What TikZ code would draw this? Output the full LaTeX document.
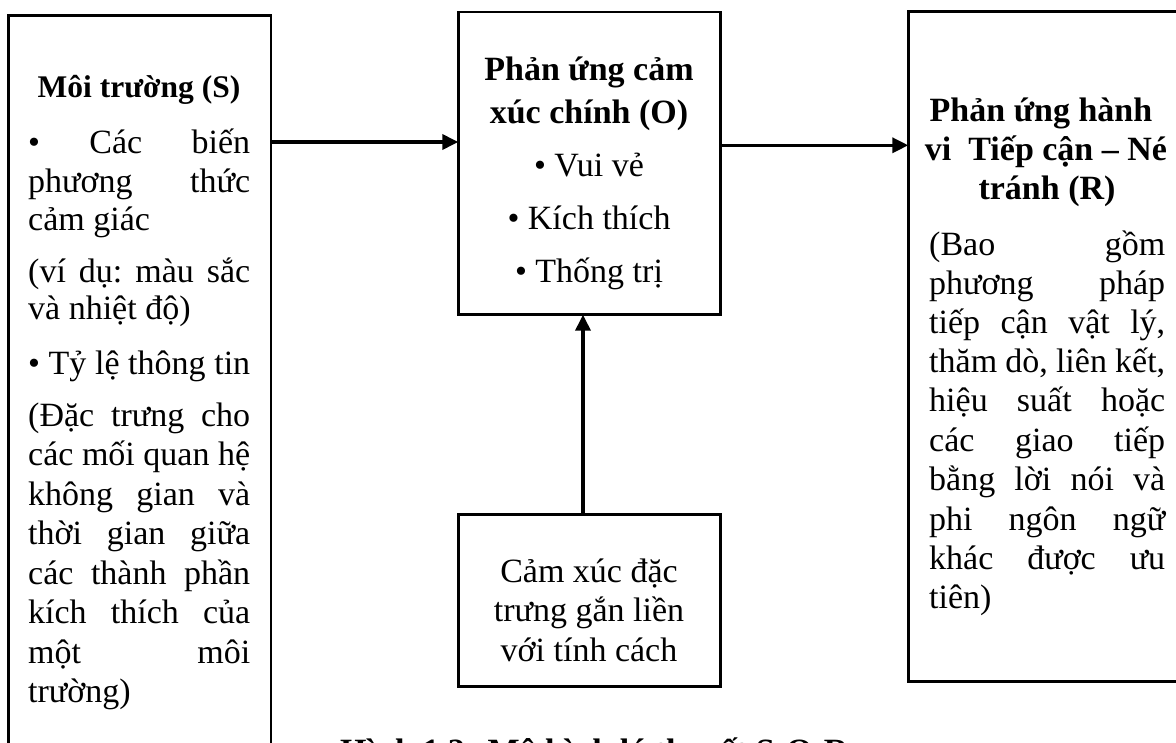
\documentclass[tikz,border=0pt]{standalone}
\usepackage{fontspec}
\setmainfont{Liberation Serif}
\usetikzlibrary{arrows.meta}
% stretchable word gap for justified lines
\newcommand\wg{\hskip 0.25em plus 1fill minus 0.08em}
\newcommand\jl[2]{\hbox to #1{#2}}
\begin{document}
\begin{tikzpicture}[x=1pt,y=-1pt,
  box/.style={draw, line width=2.8pt, inner sep=0pt, outer sep=0pt, anchor=north west},
  arr/.style={line width=3.5pt, -{Triangle[length=16pt,width=15pt]}},
  txt/.style={inner sep=0pt, anchor=base west, font=\fontsize{34pt}{40pt}\selectfont},
  ctr/.style={inner sep=0pt, anchor=base, font=\fontsize{34pt}{40pt}\selectfont},
  hd/.style={inner sep=0pt, anchor=base, font=\fontsize{34pt}{40pt}\selectfont\bfseries}]
\useasboundingbox (0,0) rectangle (1176,743);

% boxes
\node[box, minimum width=262.6pt, minimum height=800pt]   (S) at (8.4,15.8) {};
\node[box, minimum width=262.2pt, minimum height=302.7pt] (O) at (458.3,12) {};
\node[box, minimum width=262.2pt, minimum height=171.6pt] (C) at (458.3,514.7) {};
\node[box, minimum width=400pt,   minimum height=670.4pt] (R) at (908.3,11.3) {};

% connectors
\coordinate (y1) at (0,142);
\coordinate (y2) at (0,145.3);
\coordinate (x3) at (583,0);
\draw[arr] (S.east |- y1) -- (O.west |- y1);
\draw[arr] (O.east |- y2) -- (R.west |- y2);
\draw[arr] (C.north -| x3) -- (O.south -| x3);

% stimulus column
\node[hd, font=\fontsize{31.5pt}{38pt}\selectfont\bfseries] (s0) at (139,98) {Môi trường (S)};
\node[txt] (s1)  at (28,154)  {\jl{222pt}{•\wg Các\wg biến}};
\node[txt] (s2)  at (28,192.5){\jl{222pt}{phương\wg thức}};
\node[txt] (s3)  at (28,231)  {cảm giác};
\node[txt] (s4)  at (28,283)  {\jl{222pt}{(ví\wg dụ:\wg màu\wg sắc}};
\node[txt] (s5)  at (28,319.5){và nhiệt độ)};
\node[txt] (s6)  at (28,375)  {\jl{222pt}{•\wg Tỷ\wg lệ\wg thông\wg tin}};
\node[txt] (s7)  at (28,426)  {\jl{222pt}{(Đặc\wg trưng\wg cho}};
\node[txt] (s8)  at (28,465.5){\jl{222pt}{các\wg mối\wg quan\wg hệ}};
\node[txt] (s9)  at (28,505)  {\jl{222pt}{không\wg gian\wg và}};
\node[txt] (s10) at (28,544.5){\jl{222pt}{thời\wg gian\wg giữa}};
\node[txt] (s11) at (28,584)  {\jl{222pt}{các\wg thành\wg phần}};
\node[txt] (s12) at (28,623.5){\jl{222pt}{kích\wg thích\wg của}};
\node[txt] (s13) at (28,663)  {\jl{222pt}{một\wg môi}};
\node[txt] (s14) at (28,702)  {trường)};

% organism column
\node[hd]  (o0) at (589,81)  {Phản ứng cảm};
\node[hd]  (o1) at (589,124) {xúc chính (O)};
\node[ctr] (o2) at (589,177) {• Vui vẻ};
\node[ctr] (o3) at (589,230) {• Kích thích};
\node[ctr] (o4) at (589,283) {• Thống trị};

\node[ctr] (c0) at (589,582) {Cảm xúc đặc};
\node[ctr] (c1) at (589,621) {trưng gắn liền};
\node[ctr] (c2) at (589,661) {với tính cách};

% response column
\node[hd]  (r0)  at (1041,122) {Phản ứng hành};
\node[hd]  (r1)  at (1046,161) {vi~~Tiếp cận – Né};
\node[hd]  (r2)  at (1047,200) {tránh (R)};
\node[txt] (r3)  at (929,256)  {\jl{236pt}{(Bao\wg gồm}};
\node[txt] (r4)  at (929,295)  {\jl{236pt}{phương\wg pháp}};
\node[txt] (r5)  at (929,334)  {\jl{236pt}{tiếp\wg cận\wg vật\wg lý,}};
\node[txt] (r6)  at (929,373)  {\jl{236pt}{thăm\wg dò,\wg liên\wg kết,}};
\node[txt] (r7)  at (929,412)  {\jl{236pt}{hiệu\wg suất\wg hoặc}};
\node[txt] (r8)  at (929,451)  {\jl{236pt}{các\wg giao\wg tiếp}};
\node[txt] (r9)  at (929,490)  {\jl{236pt}{bằng\wg lời\wg nói\wg và}};
\node[txt] (r10) at (929,530)  {\jl{236pt}{phi\wg ngôn\wg ngữ}};
\node[txt] (r11) at (929,569)  {\jl{236pt}{khác\wg được\wg ưu}};
\node[txt] (r12) at (929,608)  {tiên)};

% caption, running past the lower edge
\node[txt, font=\fontsize{34pt}{40pt}\selectfont\bfseries] (cap) at (340,762) {Hình 1.2: Mô hình lý thuyết S-O-R};
\end{tikzpicture}
\end{document}
